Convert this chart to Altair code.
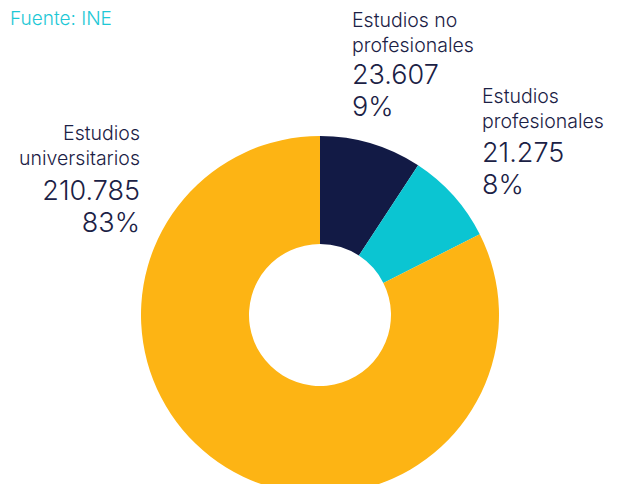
import altair as alt
import pandas as pd

categories = ["Estudios no profesionales", "Estudios profesionales", "Estudios universitarios"]
name_lines = ["Estudios no\nprofesionales", "Estudios\nprofesionales", "Estudios\nuniversitarios"]
values = [23607, 21275, 210785]
percents = [9, 8, 83]
colors = ["#121a45", "#0bc5d2", "#fdb414"]
source_note = "Fuente: INE"

df = pd.DataFrame({
    "categoria": categories,
    "nombre": name_lines,
    "valor": values,
    "pct": percents,
    "orden": [0, 1, 2],
})
df["cifras"] = [f"{v:,}".replace(",", ".") + "\n" + f"{p}%" for v, p in zip(values, percents)]

TXT = "#1b2145"
FONT = "Inter"

base = alt.Chart(df)

donut = base.mark_arc(outerRadius=179, innerRadius=71, stroke=None).encode(
    theta=alt.Theta("valor:Q", stack=True),
    color=alt.Color("categoria:N", scale=alt.Scale(domain=categories, range=colors), legend=None),
    order=alt.Order("orden:Q"),
    x=alt.value(312),
    y=alt.value(307),
)

# label anchors (x, first-name baseline, first-number baseline, align)
anchors = {
    categories[0]: (344, 19, 76, "left"),
    categories[1]: (474, 95, 154, "left"),
    categories[2]: (132, 132, 192, "right"),
}

layers = [donut]
for cat, (ax, ny, vy, al) in anchors.items():
    sub = base.transform_filter(alt.datum.categoria == cat)
    layers.append(
        sub.mark_text(align=al, baseline="alphabetic", fontSize=19.5, lineHeight=25,
                      lineBreak="\n", font=FONT, color=TXT, fontWeight=300).encode(
            text="nombre:N", x=alt.value(ax), y=alt.value(ny))
    )
    layers.append(
        sub.mark_text(align=al, baseline="alphabetic", fontSize=27, lineHeight=32,
                      lineBreak="\n", font=FONT, color=TXT, fontWeight=300).encode(
            text="cifras:N", x=alt.value(ax), y=alt.value(vy))
    )

note = alt.Chart(pd.DataFrame({"t": [source_note]})).mark_text(
    align="left", baseline="alphabetic", fontSize=19, font=FONT, color="#1ec8d6", fontWeight=300
).encode(text="t:N", x=alt.value(2), y=alt.value(17))
layers.append(note)

chart = alt.layer(*layers).properties(
    width=602, height=476, padding=0, autosize=alt.AutoSizeParams(type="none")
).configure_view(stroke=None)

chart.save("out.html", embed_options={"renderer": "svg", "actions": False})
